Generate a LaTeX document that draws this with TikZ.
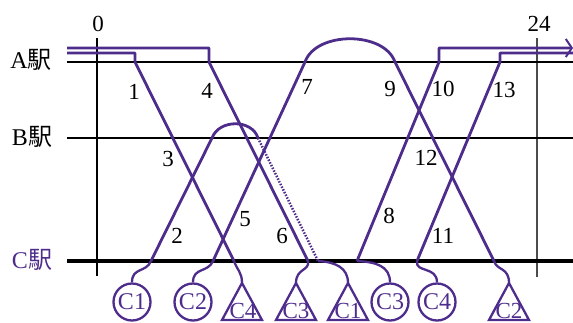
\documentclass[tikz,border=0pt]{standalone}
\usepackage{fontspec}
\setmainfont{Liberation Serif}
\newfontfamily\jp{Noto Sans CJK JP}
\usetikzlibrary{arrows.meta}
\definecolor{tc}{RGB}{78,44,140}
\begin{document}
\begin{tikzpicture}[x=1pt,y=-1pt,
  train/.style={draw=tc, line width=2.8pt, line join=round},
  link/.style={draw=tc, line width=2.3pt},
  deadhead/.style={draw=tc, line width=2.5pt, dash pattern=on 1.5pt off 1.5pt},
  thinline/.style={draw=black, line width=1.1pt},
  num/.style={font=\fontsize{23}{23}\selectfont, inner sep=0pt},
  stlabel/.style={font=\fontsize{24}{24}\selectfont, inner sep=0pt},
  vcirc/.style={circle, draw=tc, line width=2.3pt, minimum size=37pt, inner sep=0pt, text=tc, font=\fontsize{24}{24}\selectfont},
  tri/.style={draw=tc, line width=2.3pt, line join=miter},
  tritext/.style={text=tc, font=\fontsize{23}{23}\selectfont, inner sep=0pt}
]
\useasboundingbox (0,0) rectangle (573,322);
% axes
\coordinate (v0t) at (97,38); \coordinate (v0b) at (97,276);
\coordinate (v24t) at (537,38); \coordinate (v24b) at (537,277);
\coordinate (Al) at (67,62); \coordinate (Ar) at (573,62);
\coordinate (Bl) at (67,138); \coordinate (Br) at (573,138);
\coordinate (Cl) at (67,261); \coordinate (Cr) at (573,261);
\draw[thinline] (v0t) -- (v0b);
\draw[draw=black!70, line width=1.1pt] (v24t) -- (v24b);
\draw[thinline] (Al) -- (Ar);
\draw[thinline] (Bl) -- (Br);
\draw[draw=black, line width=4pt] (Cl) -- (Cr);
\node[num] (t0) at (98,24) {0};
\node[num] (t24) at (539,24) {24};
\node[stlabel] (sA) at (31,60) {A{\jp 駅}};
\node[stlabel] (sB) at (32,137) {B{\jp 駅}};
\node[stlabel, text=tc] (sC) at (32,260) {C{\jp 駅}};
% train coordinates
\coordinate (L1) at (67,53); \coordinate (a1top) at (135,53); \coordinate (a1) at (135,62); \coordinate (c3) at (234,261);
\coordinate (L4) at (67,48); \coordinate (a4top) at (209,48); \coordinate (a4) at (209,62); \coordinate (c6) at (308,261);
\coordinate (c2) at (151,261); \coordinate (b2) at (212,138); \coordinate (b2r) at (258,138); \coordinate (c2d) at (318,261);
\coordinate (c5) at (213,261); \coordinate (a7) at (305,62); \coordinate (a9) at (395,62); \coordinate (c12) at (494,261);
\coordinate (c8) at (357,261); \coordinate (a10) at (439,62); \coordinate (a10top) at (439,48); \coordinate (R10) at (573,48);
\coordinate (c11) at (417,261); \coordinate (a13) at (500,62); \coordinate (a13top) at (500,53); \coordinate (R13) at (573,53);
% trains
\draw[train] (L1) -- (a1top) -- (a1) -- (c3);
\draw[train] (L4) -- (a4top) -- (a4) -- (c6);
\draw[train] (c2) -- (b2) .. controls (219,119) and (252,119) .. (b2r);
\draw[deadhead] (b2r) -- (c2d);
\draw[train] (c5) -- (a7) .. controls (316,31) and (384,31) .. (a9) -- (c12);
\draw[train, -{Straight Barb[length=6pt,width=18pt,line width=2pt]}] (c8) -- (a10) -- (a10top) -- (R10);
\draw[train] (c11) -- (a13) -- (a13top) -- (R13);
% numbers
\node[num] (n1) at (134,92) {1};
\node[num] (n2) at (177,236) {2};
\node[num] (n3) at (168,159) {3};
\node[num] (n4) at (207,91) {4};
\node[num] (n5) at (245,219) {5};
\node[num] (n6) at (282,236) {6};
\node[num] (n7) at (307,87) {7};
\node[num] (n8) at (389,216) {8};
\node[num] (n9) at (390,89) {9};
\node[num] (n10) at (443,89) {10};
\node[num] (n11) at (443,236) {11};
\node[num] (n12) at (426,158) {12};
\node[num] (n13) at (504,90) {13};
% vehicles
\node[vcirc] (k1) at (132,302) {C1};
\node[vcirc] (k2) at (193,302) {C2};
\node[vcirc] (k3) at (390,302) {C3};
\node[vcirc] (k4) at (437,302) {C4};
\coordinate (t4) at (242,283); \coordinate (t3) at (296,283); \coordinate (t1) at (348,283); \coordinate (t2) at (509,283);
\draw[tri] (t4) -- ++(20,37) -- ++(-40,0) -- cycle;
\draw[tri] (t3) -- ++(20,37) -- ++(-40,0) -- cycle;
\draw[tri] (t1) -- ++(20,37) -- ++(-40,0) -- cycle;
\draw[tri] (t2) -- ++(20,37) -- ++(-40,0) -- cycle;
\node[tritext] (x4) at (243,311) {C4};
\node[tritext] (x3) at (296,311) {C3};
\node[tritext] (x1) at (348,311) {C1};
\node[tritext] (x2) at (509,311) {C2};
% links
\draw[link] (c2) .. controls (146,273) and (132,267) .. (k1.north);
\draw[link] (c5) .. controls (208,273) and (193,267) .. (k2.north);
\draw[link] (c3) .. controls (237,270) and (242,272) .. (t4);
\draw[link] (c6) .. controls (310,271) and (296,268) .. (t3);
\draw[link] (c2d) .. controls (336,262) and (348,268) .. (t1);
\draw[link] (c8) .. controls (376,262) and (390,266) .. (k3.north);
\draw[link] (c11) .. controls (415,273) and (437,266) .. (k4.north);
\draw[link] (c12) .. controls (497,271) and (509,267) .. (t2);
\end{tikzpicture}
\end{document}
